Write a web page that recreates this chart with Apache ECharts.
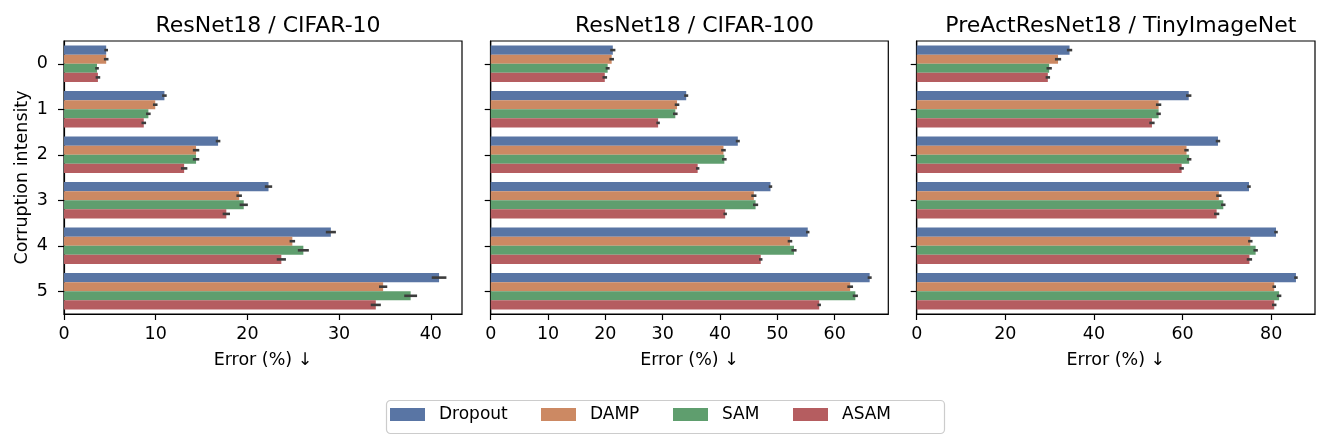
<!DOCTYPE html>
<html>
<head>
<meta charset="utf-8">
<script src="https://cdn.jsdelivr.net/npm/echarts@6/dist/echarts.min.js"></script>
<style>html,body{margin:0;padding:0;background:#fff}#c{width:1329px;height:445px}</style>
</head>
<body>
<div id="c"></div>
<script>
const categories = ['0', '1', '2', '3', '4', '5'];
const methods = ['Dropout', 'DAMP', 'SAM', 'ASAM'];
const panelTitles = ['ResNet18 / CIFAR-10', 'ResNet18 / CIFAR-100', 'PreActResNet18 / TinyImageNet'];

// ResNet18 / CIFAR-10
const c10Dropout = [4.6, 10.95, 16.8, 22.3, 29.1, 40.9];
const c10DAMP    = [4.6, 9.95, 14.4, 19.1, 24.9, 34.8];
const c10SAM     = [3.6, 9.2, 14.4, 19.6, 26.1, 37.8];
const c10ASAM    = [3.7, 8.7, 13.1, 17.7, 23.7, 34.0];
const c10DropoutErr = [0.2, 0.25, 0.25, 0.4, 0.55, 0.8];
const c10DAMPErr    = [0.25, 0.25, 0.35, 0.3, 0.3, 0.45];
const c10SAMErr     = [0.2, 0.25, 0.35, 0.45, 0.6, 0.7];
const c10ASAMErr    = [0.25, 0.25, 0.35, 0.4, 0.5, 0.55];

// ResNet18 / CIFAR-100
const c100Dropout = [21.3, 34.1, 43.1, 48.8, 55.3, 66.1];
const c100DAMP    = [21.1, 32.5, 40.6, 45.9, 52.2, 62.7];
const c100SAM     = [20.4, 32.2, 40.75, 46.2, 52.9, 63.6];
const c100ASAM    = [19.9, 29.2, 36.1, 40.9, 47.1, 57.3];
const c100DropoutErr = [0.45, 0.35, 0.35, 0.3, 0.3, 0.35];
const c100DAMPErr    = [0.4, 0.4, 0.4, 0.45, 0.4, 0.5];
const c100SAMErr     = [0.35, 0.4, 0.4, 0.45, 0.45, 0.45];
const c100ASAMErr    = [0.4, 0.3, 0.3, 0.3, 0.3, 0.3];

// PreActResNet18 / TinyImageNet
const tinyDropout = [34.5, 61.4, 68.0, 75.0, 81.1, 85.6];
const tinyDAMP    = [31.9, 54.6, 60.9, 68.2, 75.3, 80.7];
const tinySAM     = [29.9, 54.6, 61.5, 69.2, 76.5, 81.8];
const tinyASAM    = [29.6, 53.1, 59.8, 67.7, 75.1, 80.7];
const tinyDropoutErr = [0.6, 0.6, 0.5, 0.4, 0.4, 0.4];
const tinyDAMPErr    = [0.7, 0.6, 0.5, 0.6, 0.5, 0.4];
const tinySAMErr     = [0.6, 0.5, 0.5, 0.5, 0.5, 0.5];
const tinyASAMErr    = [0.5, 0.6, 0.5, 0.6, 0.6, 0.5];

const xTicksC10 = [0, 10, 20, 30, 40];
const xTicksC100 = [0, 10, 20, 30, 40, 50, 60];
const xTicksTiny = [0, 20, 40, 60, 80];

const panelValues = [
  [c10Dropout, c10DAMP, c10SAM, c10ASAM],
  [c100Dropout, c100DAMP, c100SAM, c100ASAM],
  [tinyDropout, tinyDAMP, tinySAM, tinyASAM]
];
const panelErrors = [
  [c10DropoutErr, c10DAMPErr, c10SAMErr, c10ASAMErr],
  [c100DropoutErr, c100DAMPErr, c100SAMErr, c100ASAMErr],
  [tinyDropoutErr, tinyDAMPErr, tinySAMErr, tinyASAMErr]
];
const panelTicks = [xTicksC10, xTicksC100, xTicksTiny];

const colors = ['#5975a4', '#cc8963', '#5f9e6e', '#b55d60'];
const FONT = 'DejaVu Sans';
const grids = [
  {left: 64, top: 41, width: 398, height: 273, max: 43.4, interval: 10},
  {left: 490.7, top: 41, width: 397.6, height: 273, max: 69.35, interval: 10},
  {left: 916.7, top: 41, width: 398.3, height: 273, max: 89.9, interval: 20}
];
const legendLefts = [390, 541, 673, 793];

const chart = echarts.init(document.getElementById('c'), null, {renderer: 'canvas'});

const option = {
  animation: false,
  color: colors,
  textStyle: {fontFamily: FONT},
  title: grids.map((g, i) => ({
    text: panelTitles[i],
    left: g.left + g.width / 2,
    top: 10,
    textAlign: 'center',
    textStyle: {fontFamily: FONT, fontSize: 22, fontWeight: 'normal', color: '#000'}
  })),
  legend: methods.map((m, i) => ({
    data: [m],
    left: legendLefts[i],
    top: 406,
    icon: 'rect',
    itemWidth: 35,
    itemHeight: 13,
    padding: 0,
    selectedMode: false,
    textStyle: {fontFamily: FONT, fontSize: 17, lineHeight: 17, color: '#000', padding: [0, 0, 0, 9]}
  })),
  graphic: [{
    type: 'rect', left: 384, top: 398,
    shape: {width: 558, height: 33, r: 4},
    style: {fill: 'none', stroke: '#cccccc', lineWidth: 1.2},
    silent: true, z: -1
  }],
  grid: grids.map(g => ({
    left: g.left, top: g.top, width: g.width, height: g.height,
    show: true, borderColor: '#000', borderWidth: 1.2, backgroundColor: 'transparent'
  })),
  xAxis: grids.map((g, i) => ({
    type: 'value', gridIndex: i, min: 0, max: g.max, interval: g.interval,
    name: 'Error (%) ↓', nameLocation: 'middle', nameGap: 37,
    nameTextStyle: {fontFamily: FONT, fontSize: 17.5, color: '#000'},
    axisLine: {show: true, lineStyle: {color: '#000', width: 1.2}},
    axisTick: {show: true, inside: false, length: 6, lineStyle: {color: '#000', width: 1.2}},
    axisLabel: {
      show: true, color: '#000', fontFamily: FONT, fontSize: 17.5, margin: 11,
      showMaxLabel: false,
      formatter: v => (panelTicks[i].indexOf(v) >= 0 ? String(v) : '')
    },
    splitLine: {show: false}
  })),
  yAxis: grids.map((g, i) => ({
    type: 'category', gridIndex: i, data: categories, inverse: true,
    name: i === 0 ? 'Corruption intensity' : '',
    nameLocation: 'middle', nameGap: 33, nameRotate: 90,
    nameTextStyle: {fontFamily: FONT, fontSize: 17.5, color: '#000'},
    axisLine: {show: true, lineStyle: {color: '#000', width: 1.2}},
    axisTick: {show: true, alignWithLabel: true, length: 6, lineStyle: {color: '#000', width: 1.2}},
    axisLabel: {show: i === 0, color: '#000', fontFamily: FONT, fontSize: 17.5, margin: 16},
    splitLine: {show: false}
  })),
  series: []
};

for (let p = 0; p < 3; p++) {
  for (let m = 0; m < 4; m++) {
    option.series.push({
      type: 'bar', name: methods[m], xAxisIndex: p, yAxisIndex: p,
      data: panelValues[p][m],
      barGap: '0%', barCategoryGap: '20%',
      itemStyle: {color: colors[m]}
    });
  }
}
for (let p = 0; p < 3; p++) {
  for (let m = 0; m < 4; m++) {
    const vals = panelValues[p][m];
    const errs = panelErrors[p][m];
    option.series.push({
      type: 'custom', name: methods[m], xAxisIndex: p, yAxisIndex: p, z: 10,
      silent: true,
      encode: {x: 0, y: 1},
      data: vals.map((v, k) => [v, k, errs[k], m]),
      renderItem: (params, api) => {
        const v = api.value(0), c = api.value(1), e = api.value(2), s = api.value(3);
        const a = api.coord([v - e, c]);
        const b = api.coord([v + e, c]);
        const band = api.size([0, 1])[1];
        const off = (s - 1.5) * band * 0.2;
        return {
          type: 'line',
          shape: {x1: a[0], y1: a[1] + off, x2: b[0], y2: b[1] + off},
          style: {stroke: '#3c3c3c', lineWidth: 2.6}
        };
      }
    });
  }
}

chart.setOption(option);
</script>
</body>
</html>
